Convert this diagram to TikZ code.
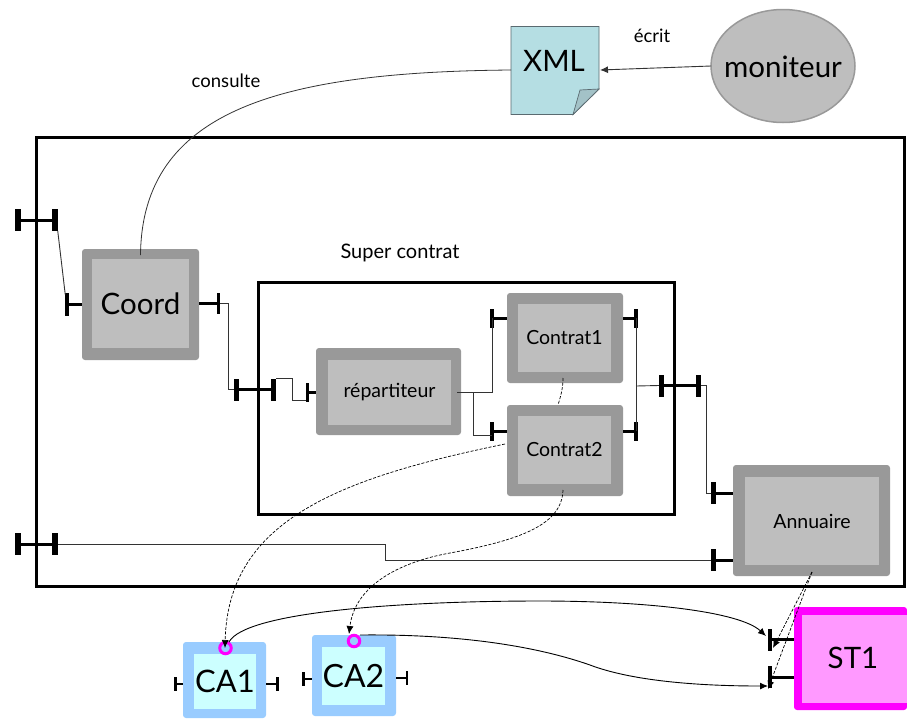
\documentclass[tikz,border=0pt]{standalone}
\usepackage{fontspec}
\setmainfont{Lato}
\usetikzlibrary{arrows.meta,shapes.geometric}
\definecolor{blockout}{HTML}{999999}
\definecolor{blockin}{HTML}{BEBEBE}
\definecolor{caout}{HTML}{99CCFF}
\definecolor{cain}{HTML}{CCFFFF}
\definecolor{stout}{HTML}{FF00FF}
\definecolor{stin}{HTML}{FF99FF}
\definecolor{xmlfill}{HTML}{B5DEE3}
\definecolor{xmlfold}{HTML}{A3C2C7}
\definecolor{xmlline}{HTML}{5A6A70}
\definecolor{wire}{HTML}{333333}
\tikzset{
  x=1pt,y=-1pt,
  every node/.style={inner sep=0pt,outer sep=0pt,text=black},
  frame/.style={draw=black,line width=3pt,fill=none},
  shell/.style={rectangle,rounded corners=3pt,fill=#1},
  core/.style={rectangle,fill=#1,align=center},
  barbig/.style={rectangle,fill=black,minimum width=5.5pt,minimum height=22pt},
  barsmall/.style={rectangle,fill=black,minimum width=3.5pt,minimum height=19pt},
  bartiny/.style={rectangle,fill=black,minimum width=2.5pt,minimum height=14pt},
  stem/.style={draw=black,line width=3pt},
  stemthin/.style={draw=black,line width=2pt},
  wireline/.style={draw=wire,line width=.9pt},
  dep/.style={draw=black,line width=.7pt,dash pattern=on 3pt off 1.6pt},
  arrowtip/.style={-{Latex[length=8pt,width=7pt]}},
  ring/.style={circle,draw=stout,line width=3pt,minimum size=11.5pt,fill=none},
  lbl/.style={font=\fontsize{18.5}{20}\selectfont},
  midtext/.style={font=\fontsize{19.5}{22}\selectfont},
  bigtext/.style={font=\fontsize{29.5}{32}\selectfont}
}
\begin{document}
\begin{tikzpicture}
\path[use as bounding box,fill=white] (0,0) rectangle (907,718);
% frames
\draw[frame] (36.5,137) rectangle (904,586);
\draw[frame] (258,282) rectangle (674,514);
% XML document
\path[fill=xmlfill,draw=xmlline,line width=.9pt] (511,26.5) -- (599,26.5) -- (599,89) -- (573,114.5) -- (511,114.5) -- cycle;
\path[fill=xmlfold,draw=xmlline,line width=.7pt] (599,89) -- (580,90) -- (573,114.5) -- cycle;
\node[bigtext] (xml) at (554,61) {XML};
\coordinate (xmlW) at (511,70);
\coordinate (xmlE) at (600,70);
% moniteur
\node[ellipse,draw=black!40,fill=blockin,line width=1.5pt,minimum width=144pt,minimum height=113pt] (mon) at (783,66) {};
\node[bigtext] (monT) at (783,67) {moniteur};
% blocks
\node[shell=blockout,minimum width=117pt,minimum height=111pt] (coordO) at (140.5,304.5) {};
\node[core=blockin,minimum width=97pt,minimum height=89pt,bigtext] (coord) at (140.5,303.5) {Coord};
\node[shell=blockout,minimum width=145pt,minimum height=87pt] (repO) at (388.5,391.5) {};
\node[core=blockin,minimum width=123pt,minimum height=65pt,midtext] (rep) at (389.5,392.5) {répartiteur};
\node[shell=blockout,minimum width=116pt,minimum height=90pt] (c1O) at (565,338) {};
\node[core=blockin,minimum width=93pt,minimum height=68pt,midtext] (c1) at (564.5,338) {Contrat1};
\node[shell=blockout,minimum width=116pt,minimum height=91pt] (c2O) at (565,450.5) {};
\node[core=blockin,minimum width=93pt,minimum height=68pt,midtext] (c2) at (564.5,450) {Contrat2};
\node[shell=blockout,minimum width=157pt,minimum height=111pt] (annO) at (811.5,520.5) {};
\node[core=blockin,minimum width=134pt,minimum height=88pt,midtext] (ann) at (812,521) {Annuaire};
\node[shell=caout,minimum width=83pt,minimum height=76pt] (ca1O) at (224.5,680) {};
\node[core=cain,minimum width=62pt,minimum height=55pt,font=\fontsize{31}{34}\selectfont] (ca1) at (225,681.5) {CA1};
\node[shell=caout,minimum width=84pt,minimum height=81pt] (ca2O) at (354,675.5) {};
\node[core=cain,minimum width=63pt,minimum height=58pt,font=\fontsize{32}{34}\selectfont] (ca2) at (353.5,676) {CA2};
\node[shell=stout,minimum width=113pt,minimum height=103pt,anchor=west] (stO) at (794,658.5) {};
\node[core=stin,minimum width=105pt,minimum height=88pt,anchor=west] (st) at (802,659) {};
\node[bigtext] (stT) at (853,658) {ST1};
% ports
\node[barbig] (oA) at (18,220) {};
\node[barbig] (oB) at (55,220) {};
\node[barsmall,minimum height=23pt] (coordL) at (67,304.5) {};
\node[barsmall,minimum height=21pt] (coordR) at (218.5,303.5) {};
\node[barbig] (supA) at (236.5,389.5) {};
\node[barbig] (supB) at (273.5,389.5) {};
\node[barsmall] (repL) at (307.5,392.5) {};
\node[barsmall] (c1L) at (492,318) {};
\node[barsmall] (c1R) at (636,318) {};
\node[barsmall] (c2L) at (492,431) {};
\node[barsmall] (c2R) at (636,431) {};
\node[barbig] (outA) at (661.5,385.5) {};
\node[barbig] (outB) at (698.5,385.5) {};
\node[barbig] (annA) at (713.5,493) {};
\node[barbig] (annB) at (713.5,560) {};
\node[barbig] (bA) at (18,544) {};
\node[barbig] (bB) at (55,544) {};
\node[barbig,minimum width=4.5pt] (stA) at (770,639.5) {};
\node[barbig,minimum width=4.5pt] (stB) at (770,677) {};
\node[bartiny] (ca1L) at (175.5,684) {};
\node[bartiny] (ca1R) at (277.5,684) {};
\node[bartiny] (ca2L) at (303.5,678.5) {};
\node[bartiny] (ca2R) at (407,678) {};
% stems
\draw[stem] (oA.center) -- (oB.center);
\draw[stem] (coordL.center) -- (coordL.center -| coordO.west);
\draw[stem] (coordR.center) -- (coordR.center -| coordO.east);
\draw[stem] (supA.center) -- (supB.center);
\draw[stem] (repL.center) -- (repL.center -| repO.west);
\draw[stem] (c1L.center) -- (c1L.center -| c1O.west);
\draw[stem] (c1R.center) -- (c1R.center -| c1O.east);
\draw[stem] (c2L.center) -- (c2L.center -| c2O.west);
\draw[stem] (c2R.center) -- (c2R.center -| c2O.east);
\draw[stem] (outA.center) -- (outB.center);
\draw[stem] (annA.center) -- (annA.center -| annO.west);
\draw[stem] (annB.center) -- (annB.center -| annO.west);
\draw[stem] (bA.center) -- (bB.center);
\draw[stem] (stA.center) -- (stA.center -| stO.west);
\draw[stem] (stB.center) -- (stB.center -| stO.west);
\draw[stemthin] (ca1L.center) -- (ca1L.center -| ca1O.west);
\draw[stemthin] (ca1R.center) -- (ca1R.center -| ca1O.east);
\draw[stemthin] (ca2L.center) -- (ca2L.center -| ca2O.west);
\draw[stemthin] (ca2R.center) -- (ca2R.center -| ca2O.east);
% wires
\draw[wireline] (oB.south east) -- ([yshift=10pt]coordL.west);
\draw[wireline] (coordR.east) -- ++(8,0) |- (supA.west);
\draw[wireline] (supB.north east) -- ++(16,0) |- ([yshift=-8pt]repL.west);
\draw[wireline] ([xshift=6pt]rep.east) -| (c1L.center);
\draw[wireline] (473,392) |- ([yshift=-4pt]c2L.center);
\draw[wireline] (c1R.center) -- (c2R.center);
\draw[wireline] (636,386) -- (outA.west);
\draw[wireline] (outB.east) -- ++(5,0) |- (annA.west);
\draw[wireline] (bB.east) -- (385,544) -- (385,560) -- (annB.west);
% text labels
\node[lbl] (consulte) at (226,81) {consulte};
\node[lbl] (ecrit) at (652,36) {écrit};
\node[font=\fontsize{20}{22}\selectfont] (sup) at (400,253) {Super contrat};
% links to XML
\draw[draw=wire,line width=.8pt] (xmlW) .. controls (280,72) and (142,110) .. ([yshift=-6pt]coordO.north);
\draw[wireline,arrowtip] (mon.west) -- (xmlE);
% rings
\node[ring] (r1) at (225.5,648) {};
\node[ring] (r2) at (354,641) {};
% dependencies
\draw[dep] (563,378) .. controls (563,390) and (560,398) .. (558,405);
\draw[dep,arrowtip] (505,444) .. controls (340,478) and (228,520) .. (225,648);
\draw[dep,arrowtip] (563,490) .. controls (562,525) and (520,540) .. (450,553) .. controls (400,562) and (355,585) .. (349,634);
\draw[dep,arrowtip] (812,572) -- (773,648);
\draw[dep,arrowtip] (812,572) -- (768,689);
% ambassadors to ST1
\draw[draw=black,line width=.9pt,arrowtip] (229,642) .. controls (245,612) and (400,601) .. (540,601) .. controls (650,601) and (740,612) .. (766,636);
\draw[draw=black,line width=.9pt,arrowtip] (360,635) .. controls (450,634) and (530,644) .. (590,665) .. controls (640,684) and (720,686) .. (768,686);
\end{tikzpicture}
\end{document}
